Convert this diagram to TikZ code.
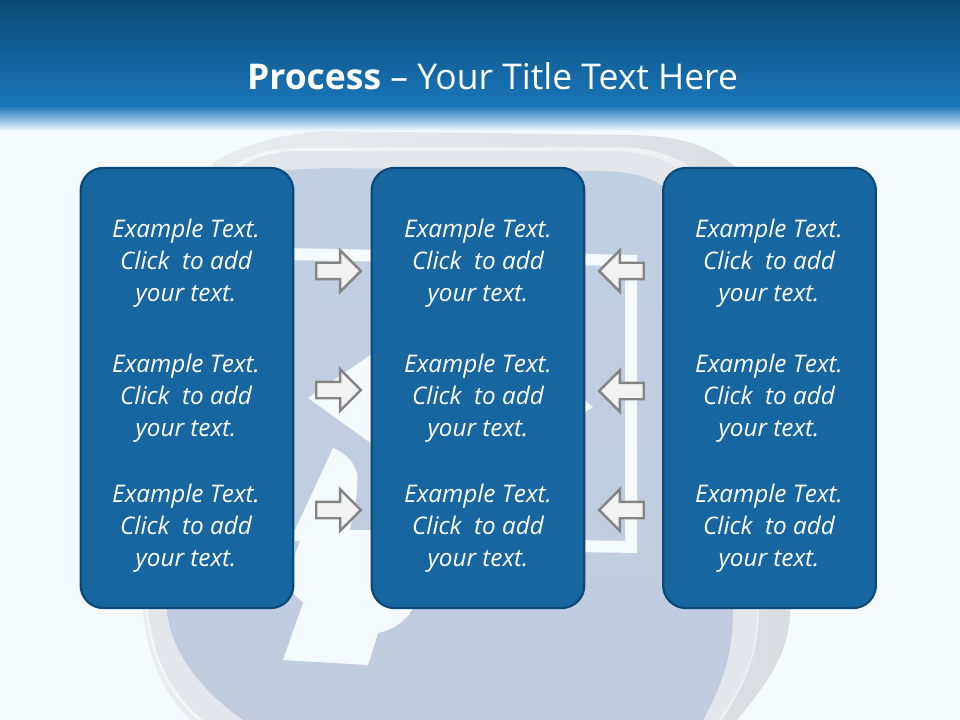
\documentclass[tikz,border=0pt]{standalone}
\usepackage{fontspec}
\setmainfont{Open Sans}
\usetikzlibrary{shapes.arrows}
\definecolor{pagebg}{HTML}{F5FAFF}
\definecolor{headtop}{HTML}{0C4A75}
\definecolor{headlow}{HTML}{1976B9}
\definecolor{panelfill}{HTML}{18669F}
\definecolor{panelline}{HTML}{0D4A78}
\definecolor{faceblue}{HTML}{C1CFE3}
\definecolor{facelow}{HTML}{C0CDDF}
\definecolor{rimleft}{HTML}{EBEEF1}
\definecolor{rimright}{HTML}{D9DDE2}
\definecolor{rimmid}{HTML}{E3E7EC}
\definecolor{arrowfill}{HTML}{F2F2F2}
\definecolor{arrowline}{HTML}{848484}
\tikzset{
  panel/.style={draw=panelline,line width=1.7pt,fill=panelfill,rounded corners=17pt,minimum width=159.5pt,minimum height=330pt,inner sep=0pt},
  paneltext/.style={text=white,align=center,inner sep=0pt,font=\fontsize{18.2pt}{24pt}\selectfont\itshape},
  blockarrow/.style={single arrow,draw=arrowline,fill=arrowfill,line width=1.8pt,minimum height=33.5pt,single arrow head extend=9.5pt,single arrow head indent=0pt,inner sep=0pt},
  toright/.style={blockarrow},
  toleft/.style={blockarrow,shape border rotate=180},
  glyph/.style={fill=pagebg},
}
\newcommand{\exampletext}{Example Text.\\Click\ \ to add\\your text.}
\newcommand{\shaftstrut}{\rule{0pt}{10.5pt}}
\begin{document}
\begin{tikzpicture}[x=0.75pt,y=-0.75pt]
\useasboundingbox (0,0) rectangle (960,720);
\fill[pagebg] (0,0) rectangle (960,720);
% icon: outer rim
\shade[left color=rimleft,right color=rimright] (143,610) .. controls (147,660) and (165,695) .. (190,720) -- (737,720) .. controls (770,680) and (790,650) .. (790,610) -- (740,170) .. controls (715,150) and (690,136) .. (630,135) -- (320,131) .. controls (280,135) and (240,145) .. (213,163) -- cycle;
% highlight line of the rim
\fill[white,opacity=.5] (146,610) .. controls (151,660) and (170,695) .. (198,720) -- (722,720) .. controls (748,680) and (759,650) .. (759,610) -- (716,190) .. controls (690,160) and (660,148) .. (620,147) -- (300,148) .. controls (270,148) and (245,155) .. (225,172) -- cycle;
\fill[rimmid] (148,610) .. controls (153,660) and (173,695) .. (203,720) -- (718,720) .. controls (746,680) and (757,650) .. (757,610) -- (706,195) .. controls (685,168) and (660,152) .. (610,151) -- (300,151) .. controls (270,151) and (245,160) .. (230,175) -- cycle;
% icon: face
\shade[top color=faceblue,bottom color=facelow] (167,610) .. controls (170,650) and (200,690) .. (243,720) -- (703,720) .. controls (725,680) and (733,650) .. (733,610) -- (672,195) .. controls (660,180) and (640,172) .. (600,171) -- (330,168) -- (235,172) -- cycle;
% white glyph on the face
\fill[glyph] (285,248) -- (637,255) -- (637,553) -- (575,552) -- (575,540) -- (625,541) -- (625,266) -- (285,260) -- cycle;
\fill[glyph] (450,300) -- (593,407) -- (450,500) -- (308,398) -- cycle;
\fill[glyph] (290,530) -- (295,530) -- (333,448) .. controls (350,455) and (360,470) .. (357,483) .. controls (358,500) and (352,515) .. (350,530) -- (400,530) -- (425,590) -- (412,610) .. controls (405,622) and (392,630) .. (378,633) -- (368,665) -- (283,660) -- (303,603) -- (290,590) -- cycle;
\fill[faceblue] (295,541) -- (300,541) -- (295,554) -- cycle;
% header band
\shade[top color=headtop,bottom color=headlow] (0,0) rectangle (960,106);
\shade[top color=headlow,bottom color=pagebg] (0,106) rectangle (960,131);
\node[text=white,inner sep=0pt,font=\fontsize{26.6pt}{30pt}\selectfont] (title) at (492.5,76) {\textbf{Process} -- Your Title Text Here};
% panels
\node[panel] (left) at (187,388) {};
\node[panel] (mid) at (478,388) {};
\node[panel] (right) at (769.5,388) {};
% panel texts
\node[paneltext] (l1) at (186,263) {\exampletext};
\node[paneltext] (l2) at (186,398) {\exampletext};
\node[paneltext] (l3) at (186,528) {\exampletext};
\node[paneltext] (m1) at (478,263) {\exampletext};
\node[paneltext] (m2) at (478,398) {\exampletext};
\node[paneltext] (m3) at (478,528) {\exampletext};
\node[paneltext] (r1) at (769,263) {\exampletext};
\node[paneltext] (r2) at (769,398) {\exampletext};
\node[paneltext] (r3) at (769,528) {\exampletext};
% block arrows
\node[toright] (al1) at (334.5,271) {\shaftstrut};
\node[toright] (al2) at (334.5,390) {\shaftstrut};
\node[toright] (al3) at (334.5,510) {\shaftstrut};
\node[toleft] (ar1) at (625.5,271) {\shaftstrut};
\node[toleft] (ar2) at (625.5,391) {\shaftstrut};
\node[toleft] (ar3) at (625.5,510) {\shaftstrut};
\end{tikzpicture}
\end{document}
